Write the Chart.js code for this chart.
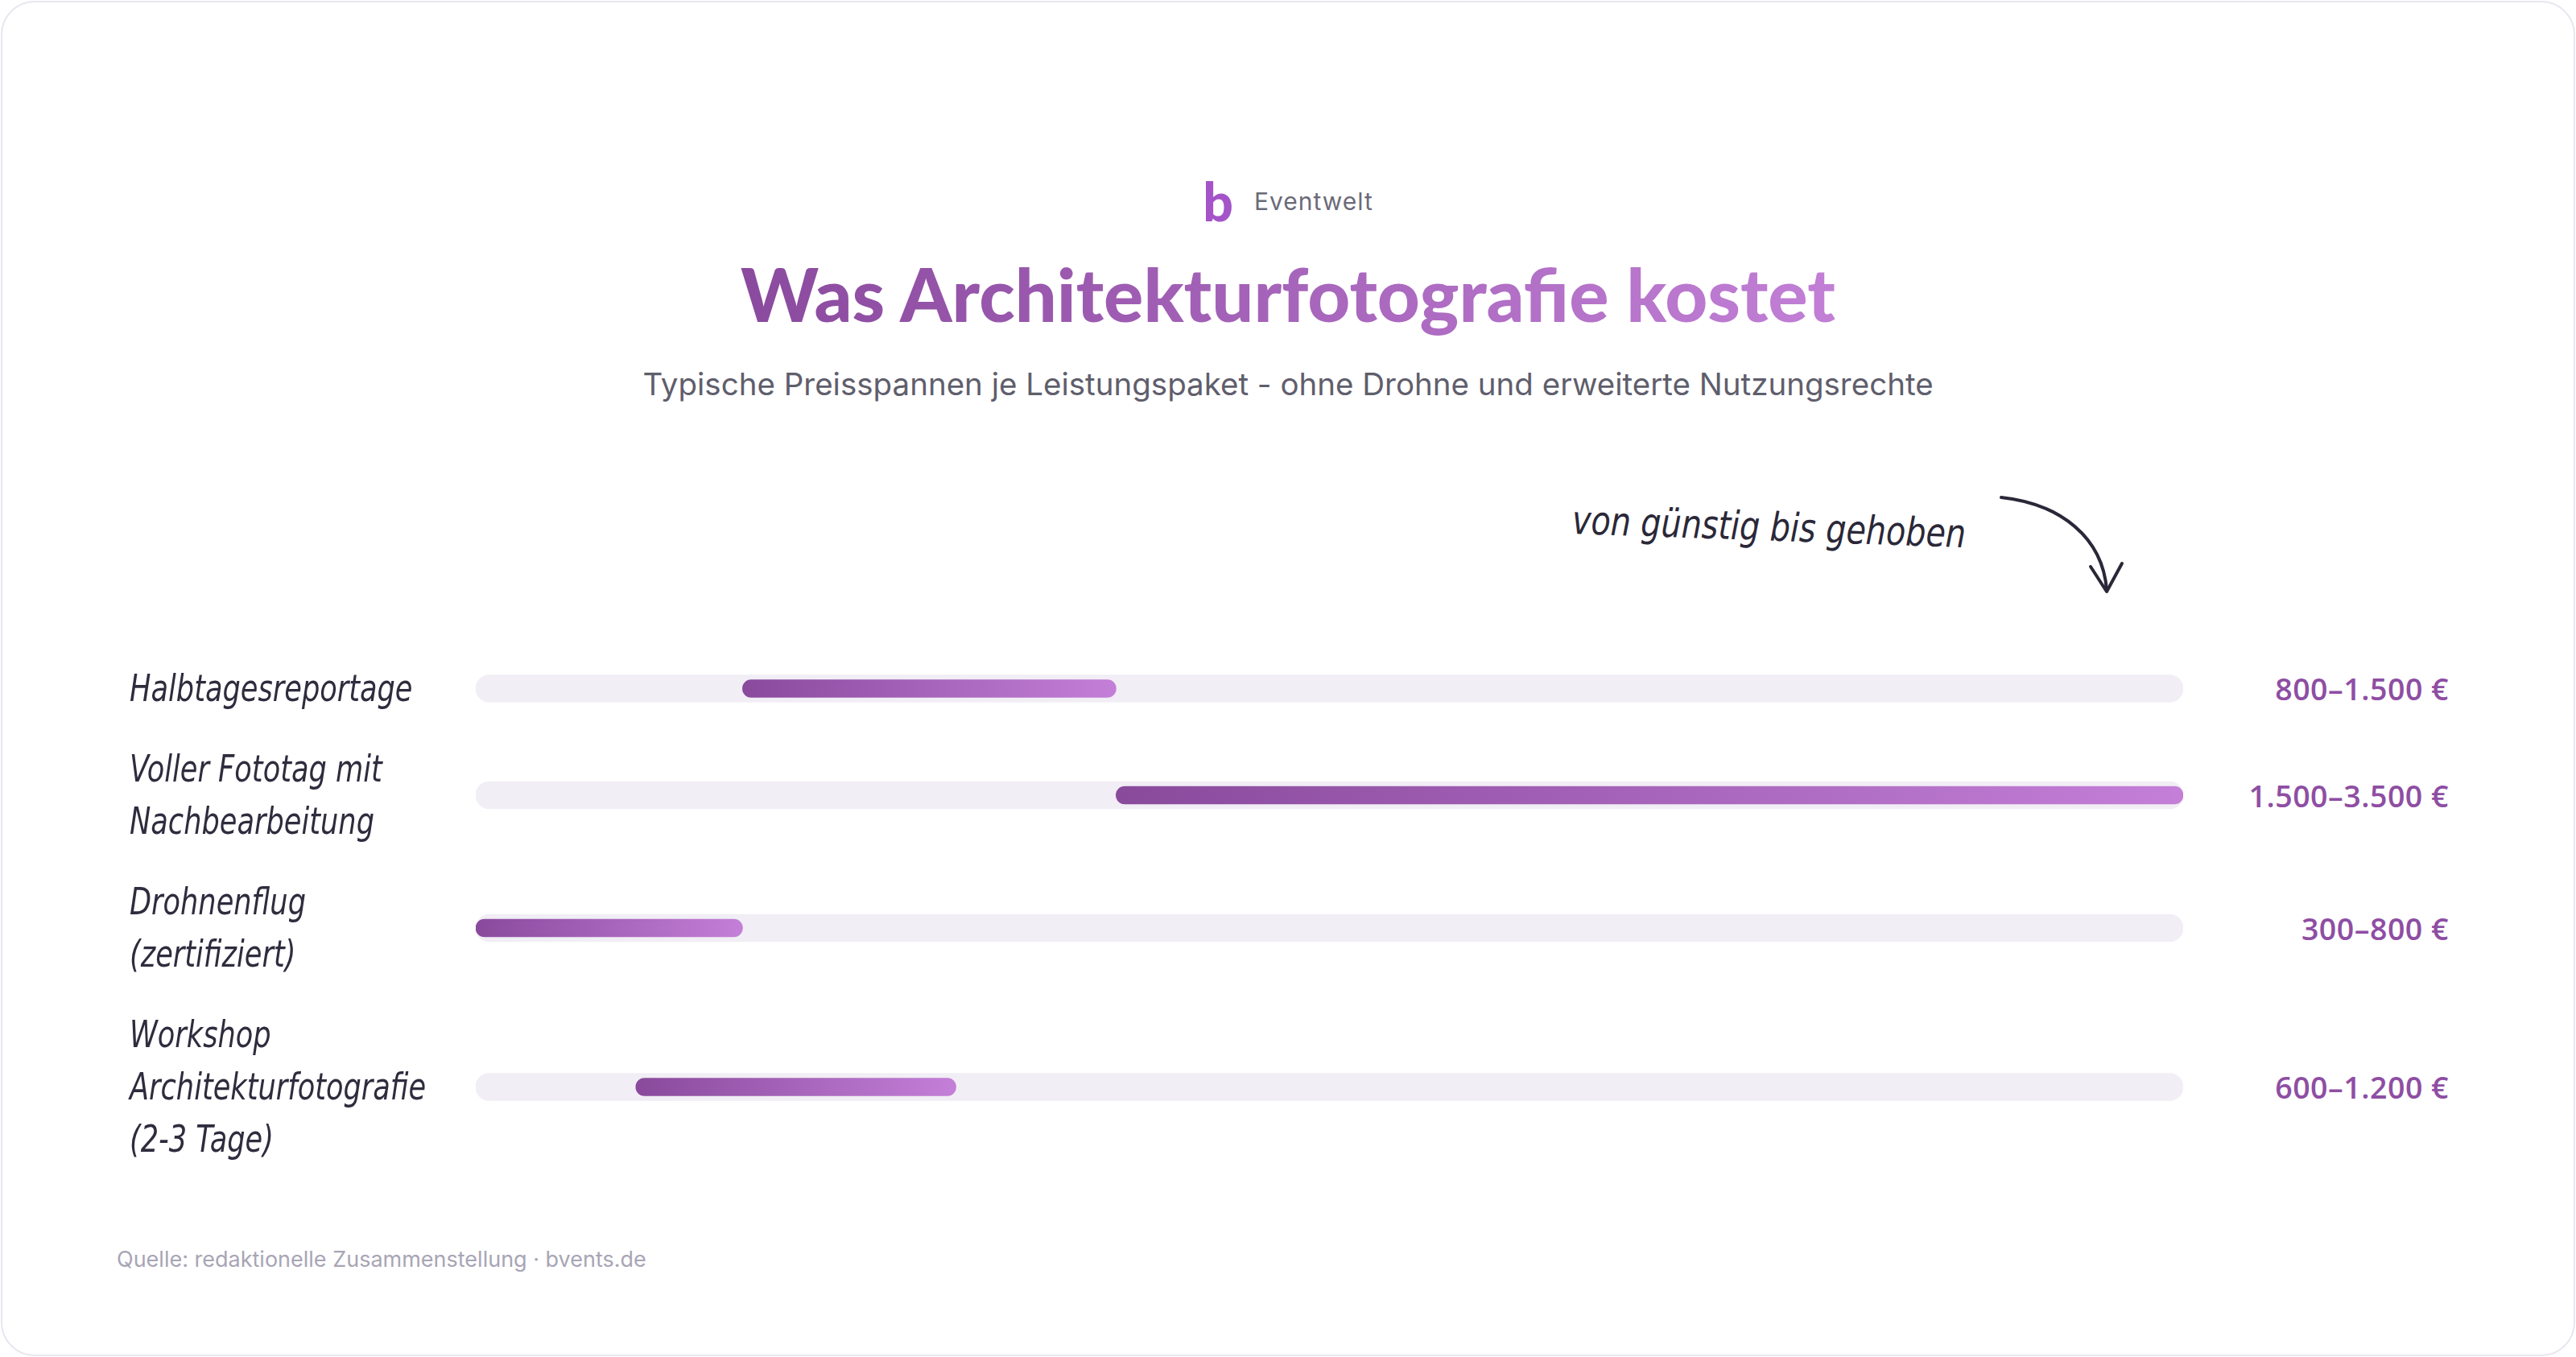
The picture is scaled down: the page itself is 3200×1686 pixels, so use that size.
<!DOCTYPE html>
<html lang="de">
<head>
  <meta charset="UTF-8">
  <title>Was Architekturfotografie kostet</title>
  <script src="https://cdn.jsdelivr.net/npm/chart.js"></script>
  <style>
    html, body { margin: 0; padding: 0; background: #fff; }
    .karte {
      position: absolute; left: 1px; top: 1px; width: 3194px; height: 1680px;
      border: 2px solid #e8e6ee; border-radius: 42px; background: #fff;
    }
    .marke {
      position: absolute; top: 220px; left: 0; width: 100%;
      display: flex; justify-content: center; align-items: center; gap: 26px;
    }
    .marke .b { font: 900 66px "Lato", sans-serif; color: #a454c8; line-height: 60px; }
    .marke .name { font: 400 30px "Inter", sans-serif; color: #6b6a78; letter-spacing: 1px; }
    h1 {
      position: absolute; top: 310px; left: 0; width: 100%; margin: 0;
      text-align: center; font: 900 92px "Lato", sans-serif; line-height: 110px;
    }
    h1 span {
      background: linear-gradient(90deg, #8a4a9e, #c27fd6);
      -webkit-background-clip: text; background-clip: text; color: transparent;
    }
    .unter {
      position: absolute; top: 454px; left: 0; width: 100%;
      text-align: center; font: 400 38.5px "Inter", sans-serif; color: #5f5e6c;
    }
    .hinweis {
      position: absolute; left: 1953px; top: 618px;
      font: italic 49px "DejaVu Sans Condensed", sans-serif; color: #2a2838;
      transform: rotate(2deg) scaleX(0.9); transform-origin: left center; white-space: nowrap;
    }
    svg.pfeil { position: absolute; left: 0; top: 0; width: 3200px; height: 1686px; pointer-events: none; }
    .zeilen { position: absolute; top: 823px; left: 0; width: 100%; }
    .zeile { display: flex; align-items: center; margin-bottom: 35px; }
    .label {
      width: 430px; margin-left: 161px; font: italic 46px "DejaVu Sans Condensed", sans-serif;
      line-height: 65px; color: #2f2c3e; white-space: nowrap;
      transform: scaleX(0.85); transform-origin: left center;
    }
    .balken { position: relative; width: 2121px; height: 100%; }
    .wert {
      width: 330px; text-align: right; font: 600 37.5px "Open Sans", sans-serif;
      color: #8e4ea3; letter-spacing: 0.5px;
    }
    .quelle {
      position: absolute; left: 145px; top: 1548px;
      font: 400 27px "Inter", sans-serif; color: #a8a5b5;
    }
  </style>
</head>
<body>
  <div class="karte"></div>
  <div class="marke"><span class="b">b</span><span class="name">Eventwelt</span></div>
  <h1><span>Was Architekturfotografie kostet</span></h1>
  <div class="unter">Typische Preisspannen je Leistungspaket - ohne Drohne und erweiterte Nutzungsrechte</div>
  <div class="hinweis">von günstig bis gehoben</div>
  <svg class="pfeil" viewBox="0 0 3200 1686">
    <path d="M2486 618 C2560 626 2612 668 2617 733" fill="none" stroke="#2a2838" stroke-width="4" stroke-linecap="round"/>
    <path d="M2597 704 L2617 735 L2636 700" fill="none" stroke="#2a2838" stroke-width="4" stroke-linecap="round" stroke-linejoin="round"/>
  </svg>
  <div class="zeilen" id="zeilen"></div>
  <div class="quelle">Quelle: redaktionelle Zusammenstellung · bvents.de</div>

  <script>
    // Daten: Leistungspakete und Preisspannen in Euro
    var pakete = [
      ['Halbtagesreportage'],
      ['Voller Fototag mit', 'Nachbearbeitung'],
      ['Drohnenflug', '(zertifiziert)'],
      ['Workshop', 'Architekturfotografie', '(2-3 Tage)']
    ];
    var preisVon = [800, 1500, 300, 600];
    var preisBis = [1500, 3500, 800, 1200];
    var wertLabels = ['800–1.500 €', '1.500–3.500 €', '300–800 €', '600–1.200 €'];
    var skalaMin = 300;
    var skalaMax = 3500;

    var zeilenHoehe = 65;
    var container = document.getElementById('zeilen');

    // Verlauf fuer einen Balken von links (dunkel) nach rechts (hell)
    function verlauf(context) {
      var chart = context.chart;
      var x = chart.scales.x;
      if (!chart.chartArea || !x) return '#9b59b6';
      var raw = context.raw;
      var g = chart.ctx.createLinearGradient(x.getPixelForValue(raw[0]), 0, x.getPixelForValue(raw[1]), 0);
      g.addColorStop(0, '#894a9c');
      g.addColorStop(1, '#c47fd8');
      return g;
    }

    pakete.forEach(function (zeilen, i) {
      var row = document.createElement('div');
      row.className = 'zeile';
      row.style.height = (zeilen.length * zeilenHoehe) + 'px';

      var label = document.createElement('div');
      label.className = 'label';
      label.innerHTML = zeilen.join('<br>');
      row.appendChild(label);

      var box = document.createElement('div');
      box.className = 'balken';
      var canvas = document.createElement('canvas');
      box.appendChild(canvas);
      row.appendChild(box);

      var wert = document.createElement('div');
      wert.className = 'wert';
      wert.textContent = wertLabels[i];
      row.appendChild(wert);

      container.appendChild(row);

      new Chart(canvas, {
        type: 'bar',
        data: {
          labels: [zeilen.join(' ')],
          datasets: [
            {
              data: [[preisVon[i], preisBis[i]]],
              backgroundColor: verlauf,
              barThickness: 22,
              borderRadius: 11,
              borderSkipped: false,
              order: 0
            },
            {
              data: [[skalaMin, skalaMax]],
              backgroundColor: '#f1eef5',
              barThickness: 34,
              borderRadius: 17,
              borderSkipped: false,
              order: 1
            }
          ]
        },
        options: {
          indexAxis: 'y',
          responsive: true,
          maintainAspectRatio: false,
          animation: false,
          layout: { padding: 0 },
          plugins: { legend: { display: false }, tooltip: { enabled: false } },
          datasets: { bar: { grouped: false } },
          scales: {
            x: { type: 'linear', min: skalaMin, max: skalaMax, display: false },
            y: { display: false }
          }
        }
      });
    });
  </script>
</body>
</html>
